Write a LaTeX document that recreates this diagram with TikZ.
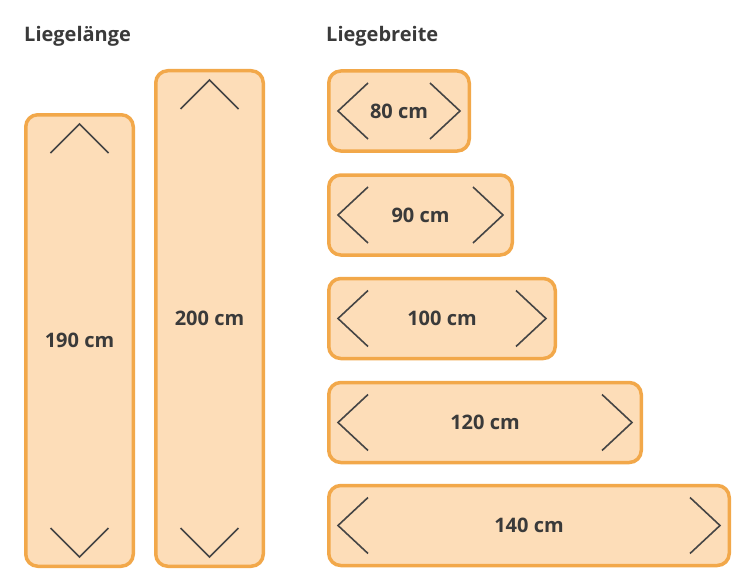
\documentclass[tikz,border=0pt]{standalone}
\usepackage{fontspec}
\setmainfont{Open Sans}
\definecolor{bedfill}{HTML}{FDDDB8}
\definecolor{bedline}{HTML}{F2A84A}
\definecolor{chevgray}{HTML}{454545}
\definecolor{labeltext}{HTML}{3A3A3A}

\begin{document}
\begin{tikzpicture}[x=1pt,y=-1pt,
  bed/.style={draw=bedline,fill=bedfill,line width=3.5pt,rounded corners=12pt,
    inner sep=0pt,text=labeltext,font=\fontsize{20}{24}\selectfont\bfseries},
  title/.style={anchor=west,inner sep=0pt,text=labeltext,font=\fontsize{20}{24}\selectfont\bfseries},
  chev/.style={draw=chevgray,line width=1.6pt}]

  \useasboundingbox (0,0) rectangle (750,586);

  \node[title]	(Laenge) at (24,36) {Liegelänge};
  \node[title]	(Breite) at (326,36) {Liegebreite};

  \node[bed,minimum width=107.5pt,minimum height=451.5pt]	(L190) at (79.5,340.5) {190 cm};
  \node[bed,minimum width=107.5pt,minimum height=495.5pt]	(L200) at (209.5,318.5) {200 cm};

  \node[bed,minimum width=140.5pt,minimum height=80pt]	(B80) at (399,111) {80 cm};
  \node[bed,minimum width=183.5pt,minimum height=80pt]	(B90) at (420.5,215) {90 cm};
  \node[bed,minimum width=226.5pt,minimum height=80pt]	(B100) at (442,318.5) {100 cm};
  \node[bed,minimum width=312.5pt,minimum height=80pt]	(B120) at (485,422.5) {120 cm};
  \node[bed,minimum width=400.5pt,minimum height=80pt]	(B140) at (529,525.5) {140 cm};

  % length arrows
  \draw[chev] ([xshift=-29pt,yshift=-40pt]L190.north) -- ([yshift=-11pt]L190.north) -- ([xshift=29pt,yshift=-40pt]L190.north);
  \draw[chev] ([xshift=-29pt,yshift=40pt]L190.south) -- ([yshift=11pt]L190.south) -- ([xshift=29pt,yshift=40pt]L190.south);
  \draw[chev] ([xshift=-29pt,yshift=-40pt]L200.north) -- ([yshift=-11pt]L200.north) -- ([xshift=29pt,yshift=-40pt]L200.north);
  \draw[chev] ([xshift=-29pt,yshift=40pt]L200.south) -- ([yshift=11pt]L200.south) -- ([xshift=29pt,yshift=40pt]L200.south);

  % width arrows
  \draw[chev] ([xshift=41pt,yshift=28pt]B80.west) -- ([xshift=11pt]B80.west) -- ([xshift=41pt,yshift=-28pt]B80.west);
  \draw[chev] ([xshift=-41pt,yshift=28pt]B80.east) -- ([xshift=-11pt]B80.east) -- ([xshift=-41pt,yshift=-28pt]B80.east);
  \draw[chev] ([xshift=41pt,yshift=28pt]B90.west) -- ([xshift=11pt]B90.west) -- ([xshift=41pt,yshift=-28pt]B90.west);
  \draw[chev] ([xshift=-41pt,yshift=28pt]B90.east) -- ([xshift=-11pt]B90.east) -- ([xshift=-41pt,yshift=-28pt]B90.east);
  \draw[chev] ([xshift=41pt,yshift=28pt]B100.west) -- ([xshift=11pt]B100.west) -- ([xshift=41pt,yshift=-28pt]B100.west);
  \draw[chev] ([xshift=-41pt,yshift=28pt]B100.east) -- ([xshift=-11pt]B100.east) -- ([xshift=-41pt,yshift=-28pt]B100.east);
  \draw[chev] ([xshift=41pt,yshift=28pt]B120.west) -- ([xshift=11pt]B120.west) -- ([xshift=41pt,yshift=-28pt]B120.west);
  \draw[chev] ([xshift=-41pt,yshift=28pt]B120.east) -- ([xshift=-11pt]B120.east) -- ([xshift=-41pt,yshift=-28pt]B120.east);
  \draw[chev] ([xshift=41pt,yshift=28pt]B140.west) -- ([xshift=11pt]B140.west) -- ([xshift=41pt,yshift=-28pt]B140.west);
  \draw[chev] ([xshift=-41pt,yshift=28pt]B140.east) -- ([xshift=-11pt]B140.east) -- ([xshift=-41pt,yshift=-28pt]B140.east);

\end{tikzpicture}
\end{document}
